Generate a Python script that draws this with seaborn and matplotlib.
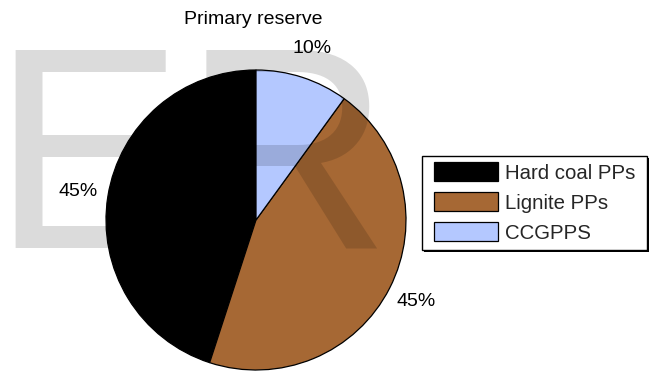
import matplotlib
matplotlib.use("Agg")
import matplotlib.pyplot as plt
from matplotlib.patches import Rectangle
import numpy as np
import seaborn as sns

# Share of primary reserve by plant type
categories = ["Hard coal PPs", "Lignite PPs", "CCGPPS"]
shares = [45, 45, 10]
pct_labels = ["45%", "45%", "10%"]
colors = ["#000000", "#A66834", "#B4C8FF"]
title = "Primary reserve"
watermark = "ER"

sns.set_theme(style="white")
plt.rcParams["font.family"] = ["Liberation Sans", "DejaVu Sans"]

W, H = 652, 371
fig = plt.figure(figsize=(W / 100, H / 100), dpi=100)
fig.patch.set_facecolor("white")


def fx(px):
    return px / W


def fy(py):
    return 1 - py / H


# square pie axes: centre (256, 220) px, radius 150 px
cx, cy, r = 256, 220, 150
ax = fig.add_axes([fx(cx - r), fy(cy + r), 2 * r / W, 2 * r / H])
wedges, _ = ax.pie(
    shares,
    colors=colors,
    startangle=90,
    counterclock=True,
    wedgeprops=dict(edgecolor="black", linewidth=0.9),
)
ax.set_xlim(-1, 1)
ax.set_ylim(-1, 1)
ax.set_aspect("equal")

# percentage labels just outside the rim
theta = 90.0
for s, lab in zip(shares, pct_labels):
    mid = np.deg2rad(theta + s * 3.6 / 2)
    ax.text(1.2 * np.cos(mid), 1.2 * np.sin(mid), lab,
            ha="center", va="center", fontsize=14, color="black")
    theta += s * 3.6

fig.text(fx(253), fy(19), title, ha="center", va="center",
         fontsize=14, color="black")

# legend frame with a hard drop shadow
bx0, by0, bx1, by1 = 422, 156, 647, 250
ax.add_patch(Rectangle((fx(bx0 + 2), fy(by1 + 2)), (bx1 - bx0) / W,
                       (by1 - by0) / H, transform=fig.transFigure,
                       facecolor="black", edgecolor="none",
                       clip_on=False, zorder=3))
ax.add_patch(Rectangle((fx(bx0), fy(by1)), (bx1 - bx0) / W,
                       (by1 - by0) / H, transform=fig.transFigure,
                       facecolor="white", edgecolor="black",
                       linewidth=1.0, clip_on=False, zorder=3.5))

leg = ax.legend(
    wedges, categories,
    loc="upper left",
    bbox_to_anchor=(fx(434), fy(162)),
    bbox_transform=fig.transFigure,
    fontsize=14.7,
    frameon=False,
    borderpad=0,
    borderaxespad=0,
    handlelength=3.13,
    handleheight=1.08,
    handletextpad=0.35,
    labelspacing=0.46,
)
leg.set_zorder(6)

# faint lettering laid over the chart
fig.text(fx(-9), 123 / H, watermark, ha="left", va="baseline",
         fontsize=207, color="black", alpha=0.14, zorder=10)

fig.savefig("out.png", dpi=100, facecolor="white")
